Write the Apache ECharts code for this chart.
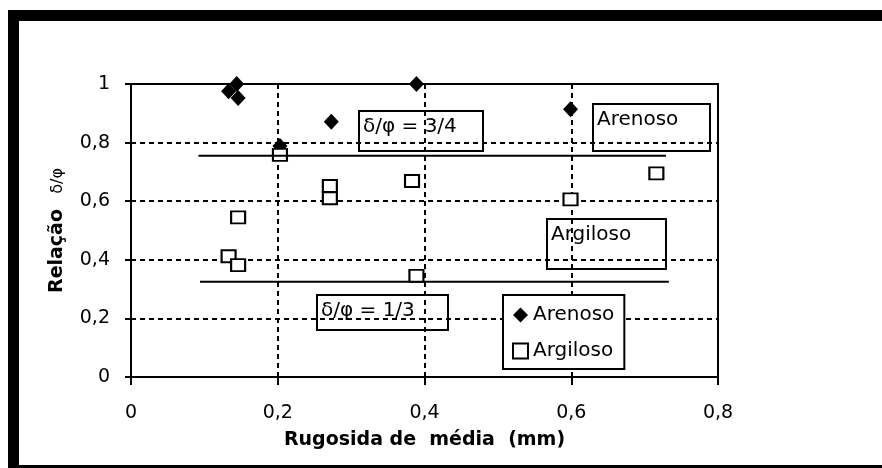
<!DOCTYPE html>
<html>
<head>
<meta charset="utf-8">
<script src="https://cdn.jsdelivr.net/npm/echarts@6/dist/echarts.min.js"></script>
<style>
  html, body { margin: 0; padding: 0; background: #fff; }
  #chart { width: 882px; height: 468px; }
</style>
</head>
<body>
<div id="chart"></div>
<script>
// measured values (x = rugosidade média mm, y = relação δ/φ)
const arenosoX = [0.133, 0.144, 0.146, 0.203, 0.273, 0.389, 0.599];
const arenosoY = [0.975, 1.0, 0.952, 0.788, 0.871, 1.0, 0.914];
const argilosoX = [0.133, 0.146, 0.146, 0.203, 0.271, 0.271, 0.383, 0.389, 0.599, 0.716];
const argilosoY = [0.412, 0.382, 0.545, 0.758, 0.652, 0.61, 0.669, 0.345, 0.606, 0.695];
const ratio34X = [0.092, 0.729];
const ratio34Y = 0.755;
const ratio13X = [0.094, 0.733];
const ratio13Y = 0.325;
const seriesNames = ['Arenoso', 'Argiloso'];

const FONT = 'DejaVu Sans';
const chart = echarts.init(document.getElementById('chart'));

const fmt = v => String(+v.toFixed(1)).replace('.', ',');

const textBox = (x, y, w, h, label) => ({
  type: 'group',
  z: 10,
  children: [
    { type: 'rect', shape: { x, y, width: w, height: h },
      style: { fill: '#fff', stroke: '#000', lineWidth: 2 } },
    { type: 'text', x: x + 4, y: y + 6,
      style: { text: label, fill: '#000', font: '20px "' + FONT + '"', textVerticalAlign: 'top' } }
  ]
});

const option = {
  animation: false,
  backgroundColor: '#fff',
  textStyle: { fontFamily: FONT },
  grid: {
    left: 131, top: 84, right: 164, bottom: 91,
    show: true, borderColor: '#000', borderWidth: 2
  },
  xAxis: {
    type: 'value', min: 0, max: 0.8, interval: 0.2,
    name: 'Rugosida de  média  (mm)',
    nameLocation: 'middle', nameGap: 54,
    nameTextStyle: { fontFamily: FONT, fontWeight: 'bold', fontSize: 19, color: '#000' },
    axisLine: { lineStyle: { color: '#000', width: 2 } },
    axisTick: { length: 8, lineStyle: { color: '#000', width: 2 } },
    axisLabel: { formatter: fmt, margin: 27, fontSize: 19, color: '#000', fontFamily: FONT },
    splitLine: { lineStyle: { color: '#000', width: 2, type: [5, 4] } }
  },
  yAxis: {
    type: 'value', min: 0, max: 1, interval: 0.2,
    name: '{a|Relação}{b|   δ/φ}',
    nameLocation: 'middle', nameGap: 64,
    nameTextStyle: {
      rich: {
        a: { fontFamily: FONT, fontWeight: 'bold', fontSize: 19, color: '#000' },
        b: { fontFamily: FONT, fontSize: 16, color: '#000' }
      }
    },
    axisLine: { show: true, lineStyle: { color: '#000', width: 2 } },
    axisTick: { show: true, length: 6, lineStyle: { color: '#000', width: 2 } },
    axisLabel: { formatter: fmt, margin: 21, fontSize: 19, color: '#000', fontFamily: FONT },
    splitLine: { lineStyle: { color: '#000', width: 2, type: [5, 4] } }
  },
  legend: {
    data: seriesNames,
    orient: 'vertical',
    left: 503, top: 295,
    padding: [10, 10, 8, 9],
    itemGap: 16,
    itemWidth: 15, itemHeight: 15,
    backgroundColor: '#fff', borderColor: '#000', borderWidth: 2, borderRadius: 0,
    z: 20,
    textStyle: { fontFamily: FONT, fontSize: 20, color: '#000' }
  },
  series: [
    {
      name: seriesNames[0], type: 'scatter', symbol: 'diamond', symbolSize: [15, 16],
      itemStyle: { color: '#000', opacity: 1 },
      data: arenosoX.map((x, i) => [x, arenosoY[i]])
    },
    {
      name: seriesNames[1], type: 'scatter', symbol: 'rect', symbolSize: [14, 12],
      itemStyle: { color: '#fff', borderColor: '#000', borderWidth: 2, opacity: 1 },
      data: argilosoX.map((x, i) => [x, argilosoY[i]])
    },
    {
      type: 'line', z: 3, symbol: 'none', silent: true,
      lineStyle: { color: '#000', width: 2 },
      data: ratio34X.map(x => [x, ratio34Y])
    },
    {
      type: 'line', z: 3, symbol: 'none', silent: true,
      lineStyle: { color: '#000', width: 2 },
      data: ratio13X.map(x => [x, ratio13Y])
    }
  ],
  graphic: [
    textBox(359, 111, 124, 40, 'δ/φ = 3/4'),
    textBox(593, 104, 117, 47, 'Arenoso'),
    textBox(547, 219, 119, 50, 'Argiloso'),
    textBox(317, 295, 131, 35, 'δ/φ = 1/3'),
    // frame
    { type: 'rect', z: 30, shape: { x: 8, y: 10, width: 874, height: 11 }, style: { fill: '#000' } },
    { type: 'rect', z: 30, shape: { x: 8, y: 10, width: 11, height: 458 }, style: { fill: '#000' } },
    { type: 'rect', z: 30, shape: { x: 8, y: 465, width: 874, height: 3 }, style: { fill: '#000' } }
  ]
};

chart.setOption(option);
</script>
</body>
</html>
